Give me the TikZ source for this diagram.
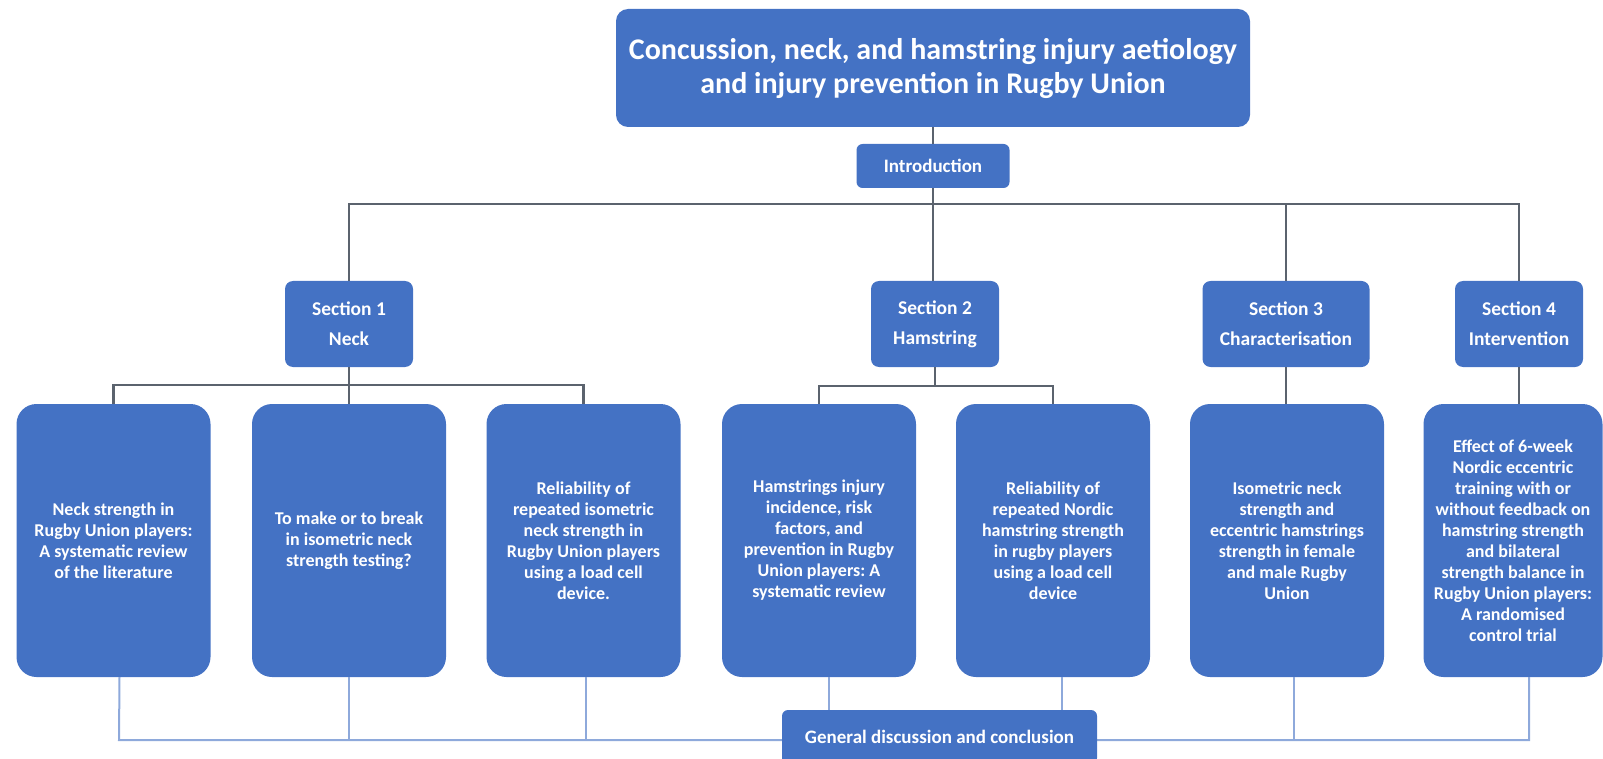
\documentclass[tikz,border=0pt]{standalone}
\usepackage{fontspec}
\setmainfont{Carlito}
\frenchspacing
\definecolor{boxblue}{HTML}{4472C4}
\definecolor{treegray}{HTML}{5B636E}
\definecolor{linkblue}{HTML}{8EA9DB}
\begin{document}
\begin{tikzpicture}[x=1pt,y=-1pt,
    box/.style={fill=boxblue, text=white, align=center, inner sep=0pt},
    titlebox/.style={box, rounded corners=12pt, minimum width=634pt, minimum height=118pt,
        font=\fontsize{30}{34}\selectfont\bfseries},
    smallbox/.style={box, rounded corners=6pt, minimum height=44pt,
        font=\fontsize{19}{22}\selectfont\bfseries},
    secbox/.style={box, rounded corners=8pt, minimum width=128pt, minimum height=86pt,
        font=\fontsize{19.5}{30}\selectfont\bfseries},
    paperbox/.style={box, rounded corners=20pt, minimum width=194pt, minimum height=273pt,
        font=\fontsize{18}{21}\selectfont\bfseries},
    tree/.style={treegray, line width=2.2pt},
    link/.style={linkblue, line width=2pt}]
    \useasboundingbox (0,0) rectangle (1603,759);
    \clip (0,0) rectangle (1603,759);

    % thesis title and introduction
    \node[titlebox] (title) at (933,68) {Concussion, neck, and hamstring injury aetiology\\and injury prevention in Rugby Union};
    \node[smallbox, minimum width=153pt] (intro) at (933,166) {Introduction};

    % sections
    \node[secbox] (s1) at (349,324) {Section 1\\Neck};
    \node[secbox] (s2) at (935,324) {Section 2\\Hamstring};
    \node[secbox, minimum width=167pt] (s3) at (1286,324) {Section 3\\Characterisation};
    \node[secbox] (s4) at (1519,324) {Section 4\\Intervention};

    % studies
    \node[paperbox] (b1) at (113.5,540.5) {Neck strength in\\Rugby Union players:\\A systematic review\\of the literature};
    \node[paperbox] (b2) at (349,540.5) {To make or to break\\in isometric neck\\strength testing?};
    \node[paperbox] (b3) at (583.5,540.5) {Reliability of\\repeated isometric\\neck strength in\\Rugby Union players\\using a load cell\\device.};
    \node[paperbox] (b4) at (819,540.5) {Hamstrings injury\\incidence, risk\\factors, and\\prevention in Rugby\\Union players: A\\systematic review};
    \node[paperbox] (b5) at (1053,540.5) {Reliability of\\repeated Nordic\\hamstring strength\\in rugby players\\using a load cell\\device};
    \node[paperbox] (b6) at (1287,540.5) {Isometric neck\\strength and\\eccentric hamstrings\\strength in female\\and male Rugby\\Union};
    \node[paperbox, minimum width=179pt] (b7) at (1513,540.5) {Effect of 6-week\\Nordic eccentric\\training with or\\without feedback on\\hamstring strength\\and bilateral\\strength balance in\\Rugby Union players:\\A randomised\\control trial};

    % tree connectors
    \coordinate (hub) at (933,204);
    \coordinate (s1hub) at (349,385);
    \coordinate (s2hub) at (935,386);
    \draw[tree] (title) -- (intro);
    \draw[tree] (intro.south) -- (intro.south |- s2.north);
    \draw[tree] (s1.north) |- (hub) -| (s4.north);
    \draw[tree] (hub -| s3.north) -- (s3.north);
    \draw[tree] (b1.north) |- (s1hub) -| (b3.north);
    \draw[tree] (s1.south) -- (b2.north);
    \draw[tree] (b4.north) |- (s2hub) -| (b5.north);
    \draw[tree] (s2.south) -- (s2hub);
    \draw[tree] (s3.south) -- (s3.south |- b6.north);
    \draw[tree] (s4.south) -- (s4.south |- b7.north);

    % links to the conclusion
    \coordinate (footl) at (119,740);
    \coordinate (footr) at (1529,740);
    \draw[link] ([xshift=6pt]b1.south) -- (footl) -- (footr) -- ([xshift=16pt]b7.south);
    \foreach \b/\dx in {b2/0,b3/2,b4/10,b5/9,b6/7}
        \draw[link] ([xshift=\dx pt]\b.south) -- ++(0,63);
    \node[smallbox, minimum width=315pt, minimum height=54pt] (general) at (939.5,737) {General discussion and conclusion};
\end{tikzpicture}
\end{document}
